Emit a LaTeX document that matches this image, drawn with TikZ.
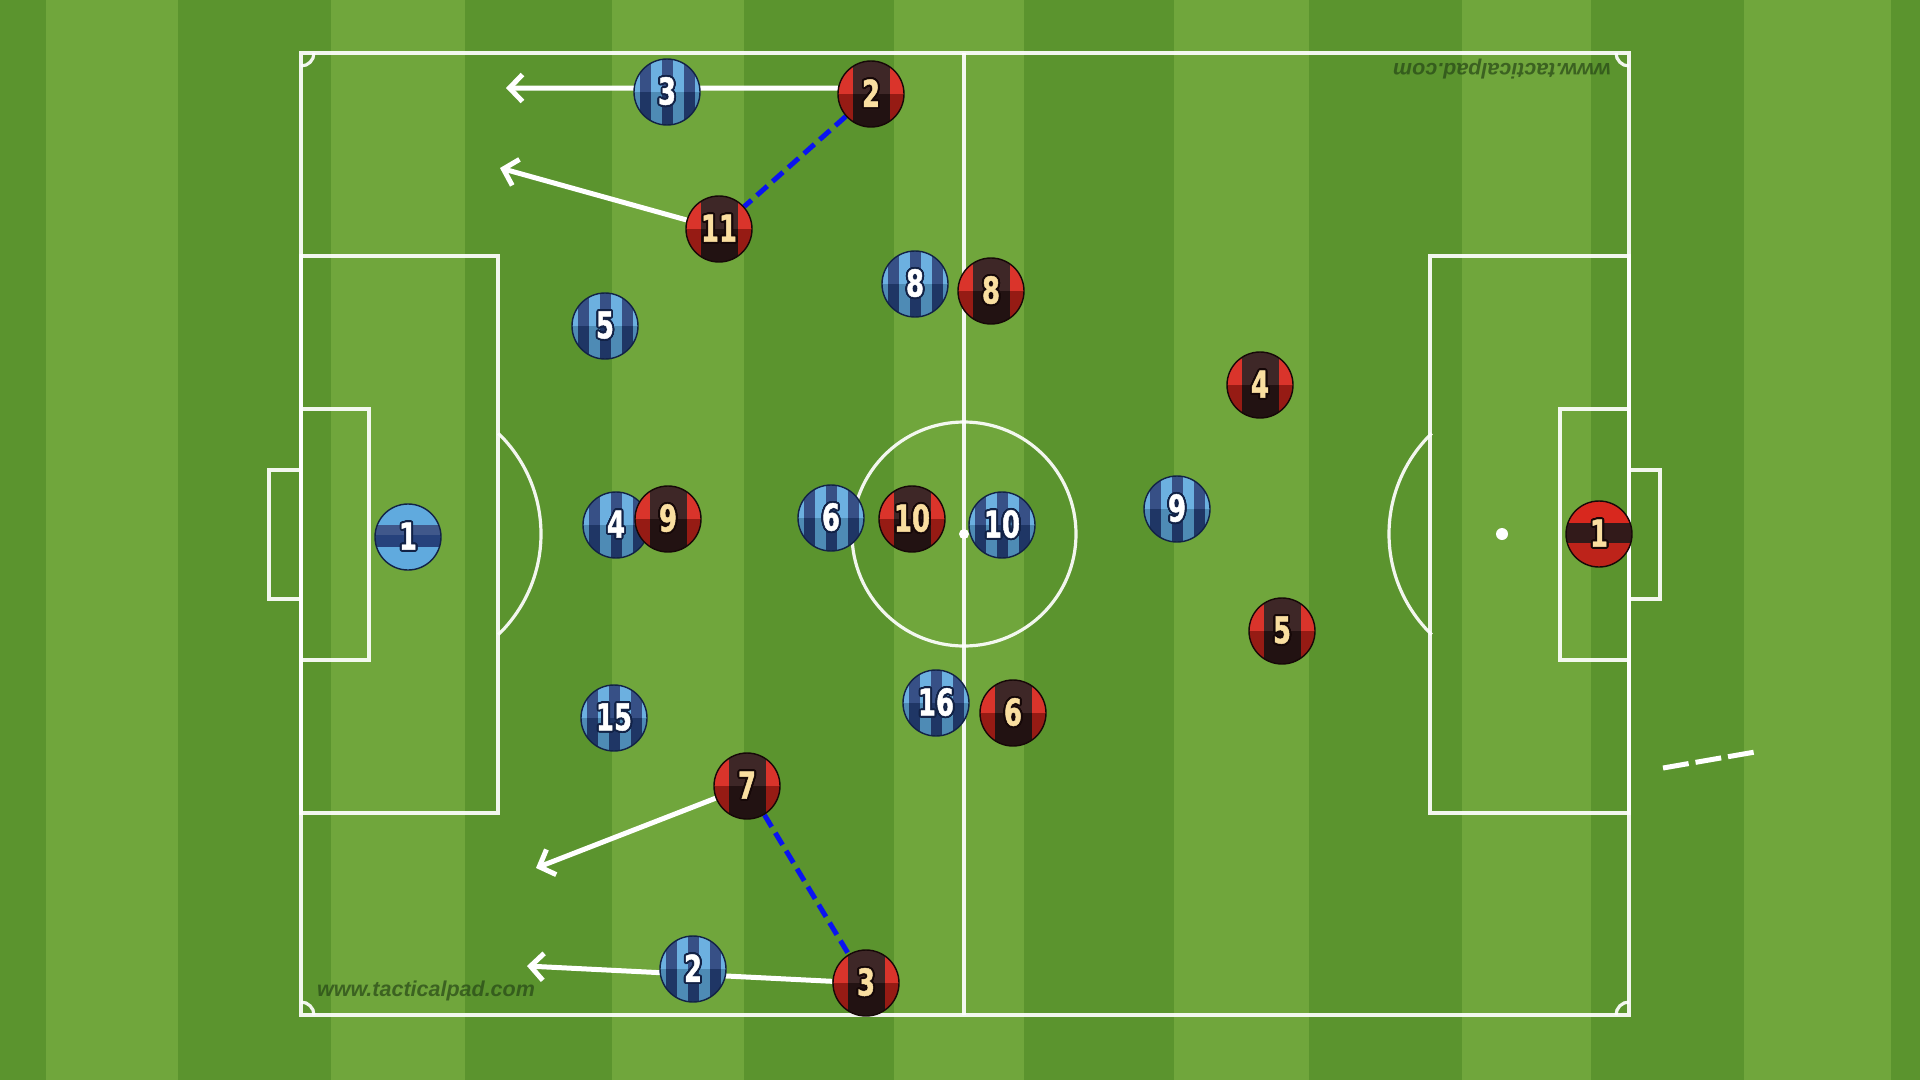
\documentclass[tikz,border=0pt]{standalone}
\usepackage{fontspec}
\setmainfont{DejaVu Sans}
\newfontfamily\numfont[FakeStretch=0.7,FakeBold=1.2]{DejaVu Sans}
\newfontfamily\wmfont{Liberation Sans}
\usepackage{contour}
\contourlength{1.9pt}
\contournumber{24}
\usetikzlibrary{arrows.meta}
\pgfdeclarelayer{back}
\pgfdeclarelayer{conn}
\pgfsetlayers{back,conn,main}
\definecolor{grassL}{RGB}{112,166,60}
\definecolor{grassD}{RGB}{91,148,46}
\definecolor{bl}{RGB}{96,170,222}
\definecolor{bd}{RGB}{38,66,124}
\definecolor{bo}{RGB}{18,34,70}
\definecolor{rr}{RGB}{216,40,30}
\definecolor{rk}{RGB}{50,26,26}
\definecolor{ro}{RGB}{22,8,8}
\definecolor{cream}{RGB}{250,222,160}
\definecolor{wm}{RGB}{38,70,22}
\definecolor{dblue}{RGB}{10,20,240}
\tikzset{
  pline/.style={draw=white, line width=3.2pt, opacity=.92},
  numtxt/.style={node font=\numfont\bfseries\fontsize{37}{37}\selectfont},
  plbase/.style={circle, minimum size=66pt, inner sep=0pt, line width=1.4pt, numtxt},
  bp/.style={plbase, fill=bl, draw=bo, text=white,
    path picture={
      \foreach \l/\r in {-27.5/-16.5,-5.5/5.5,16.5/27.5}
        \fill[bd] ([xshift=\l pt]path picture bounding box.north) rectangle ([xshift=\r pt]path picture bounding box.south);
      \fill[white,opacity=.08] (path picture bounding box.north west) rectangle (path picture bounding box.east);
      \fill[black,opacity=.18] (path picture bounding box.west) rectangle (path picture bounding box.south east);
    }},
  rp/.style={plbase, fill=rr, draw=ro, text=cream,
    path picture={
      \fill[rk] ([xshift=-18.5pt]path picture bounding box.north) rectangle ([xshift=18.5pt]path picture bounding box.south);
      \fill[white,opacity=.06] (path picture bounding box.north west) rectangle (path picture bounding box.east);
      \fill[black,opacity=.3] (path picture bounding box.west) rectangle (path picture bounding box.south east);
    }},
  bkp/.style={plbase, fill=bl, draw=bo, text=white,
    path picture={
      \fill[bd] ([yshift=12pt]path picture bounding box.west) rectangle ([yshift=-10pt]path picture bounding box.east);
      \fill[white,opacity=.12] ([yshift=12pt]path picture bounding box.west) rectangle ([yshift=2pt]path picture bounding box.east);
    }},
  rkp/.style={plbase, fill=rr, draw=ro, text=cream,
    path picture={
      \fill[rk] ([yshift=11pt]path picture bounding box.west) rectangle ([yshift=-9pt]path picture bounding box.east);
      \fill[black,opacity=.12] ([yshift=-9pt]path picture bounding box.west) rectangle (path picture bounding box.south east);
    }},
  warrow/.style={draw=white, line width=5pt, -{Straight Barb[length=13pt,width=27pt]}},
  bdash/.style={draw=dblue, line width=5pt, dash pattern=on 14pt off 7pt},
  wdash/.style={draw=white, line width=5pt, dash pattern=on 26pt off 7pt},
  wmtext/.style={text=wm, text opacity=.7, font=\wmfont\bfseries\itshape\fontsize{21.5}{22}\selectfont, inner sep=0pt},
}
\newcommand\bnum[1]{\contour{bo}{#1}}
\newcommand\rnum[1]{\contour{ro}{#1}}
\begin{document}
\begin{tikzpicture}[x=1pt,y=-1pt]
\useasboundingbox (0,0) rectangle (1920,1080);
\begin{pgfonlayer}{back}
  \fill[grassD] (0,0) rectangle (1920,1080);
  \foreach \a/\b in {46/178,331/465,612/744,894/1024,1174/1309,1462/1591,1744/1891}
    \fill[grassL] (\a,0) rectangle (\b,1080);
  % pitch
  \draw[pline] (301,53) rectangle (1629,1015);
  \draw[pline] (964,53) -- (964,1015);
  \draw[pline] (964,534) circle[radius=112];
  \fill[white] (964,534) circle[radius=5];
  \draw[pline] (301,256) rectangle (498,813);
  \draw[pline] (301,409) rectangle (369,660);
  \draw[pline] (269,470) rectangle (301,599);
  \draw[pline] (1430,256) rectangle (1629,813);
  \draw[pline] (1560,409) rectangle (1629,660);
  \draw[pline] (1629,470) rectangle (1660,599);
  \fill[white] (1502,534) circle[radius=6];
  \draw[pline] ([shift={(-46:140)}]401,534) arc[start angle=-46,end angle=46,radius=140];
  \draw[pline] ([shift={(134:140)}]1529,534) arc[start angle=134,end angle=226,radius=140];
  \draw[pline] (314,53) arc[start angle=0,end angle=90,radius=13];
  \draw[pline] (1629,66) arc[start angle=90,end angle=180,radius=13];
  \draw[pline] (301,1002) arc[start angle=-90,end angle=0,radius=13];
  \draw[pline] (1616,1015) arc[start angle=180,end angle=270,radius=13];
  \node[wmtext] (wm1) at (426,991) {www.tacticalpad.com};
  \node[wmtext, rotate=180] (wm2) at (1502,69) {www.tacticalpad.com};
\end{pgfonlayer}

% blue team
\node[bkp] (b1) at (408,537) {\bnum{1}};
\node[bp] (b3) at (667,92) {\bnum{3}};
\node[bp] (b5) at (605,326) {\bnum{5}};
\node[bp] (b8) at (915,284) {\bnum{8}};
\node[bp] (b4) at (616,525) {\bnum{4}};
\node[bp] (b6) at (831,518) {\bnum{6}};
\node[bp] (b10) at (1002,525) {\bnum{10}};
\node[bp] (b9) at (1177,509) {\bnum{9}};
\node[bp] (b15) at (614,718) {\bnum{15}};
\node[bp] (b16) at (936,703) {\bnum{16}};
\node[bp] (b2) at (693,969) {\bnum{2}};
% red team
\node[rp] (r2) at (871,94) {\rnum{2}};
\node[rp] (r11) at (719,229) {\rnum{11}};
\node[rp] (r8) at (991,291) {\rnum{8}};
\node[rp] (r4) at (1260,385) {\rnum{4}};
\node[rp] (r9) at (668,519) {\rnum{9}};
\node[rp] (r10) at (912,519) {\rnum{10}};
\node[rp] (r5) at (1282,631) {\rnum{5}};
\node[rp] (r6) at (1013,713) {\rnum{6}};
\node[rp] (r7) at (747,786) {\rnum{7}};
\node[rp] (r3) at (866,983) {\rnum{3}};
\node[rkp] (r1) at (1599,534) {\rnum{1}};

% arrow tips and free ends
\coordinate (a1) at (506,88);
\coordinate (a2) at (500,168);
\coordinate (a3) at (536,868);
\coordinate (a4) at (527,966);
\coordinate (d1) at (1663,768);
\coordinate (d2) at (1755,752);

\begin{pgfonlayer}{conn}
  \draw[warrow] (r2.170) -- (a1);
  \draw[warrow] (r11) -- (a2);
  \draw[warrow] (r7) -- (a3);
  \draw[warrow] (r3) -- (a4);
  \draw[bdash] (r2) -- (r11);
  \draw[bdash] (r7) -- (r3);
  \draw[wdash] (d1) -- (d2);
\end{pgfonlayer}
\end{tikzpicture}
\end{document}
